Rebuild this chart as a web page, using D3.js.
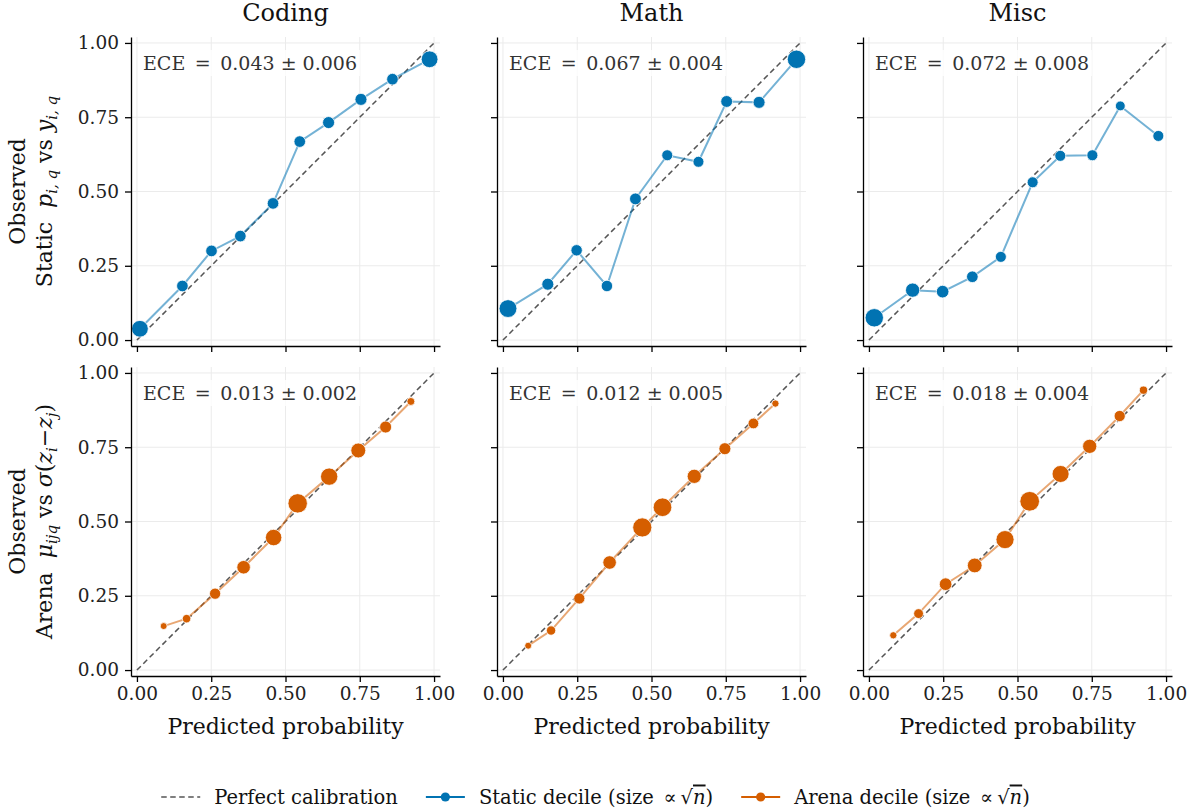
<!DOCTYPE html>
<html>
<head>
<meta charset="utf-8">
<script src="https://cdn.jsdelivr.net/npm/d3@7"></script>
<style>
  body { margin: 0; background: #fff; }
  svg text { font-family: "DejaVu Serif", serif; }
</style>
</head>
<body>
<svg id="chart" width="1199" height="812"></svg>
<script>
// Data
const categories = ['Coding', 'Math', 'Misc'];
const tickValues = [0, 0.25, 0.5, 0.75, 1];
const eceStatic = ['0.043 ± 0.006', '0.067 ± 0.004', '0.072 ± 0.008'];
const eceArena = ['0.013 ± 0.002', '0.012 ± 0.005', '0.018 ± 0.004'];

// Static deciles: predicted, observed, relative sqrt(n)
const codingStaticPred = [0.010, 0.153, 0.251, 0.348, 0.458, 0.548, 0.645, 0.754, 0.860, 0.985];
const codingStaticObs = [0.038, 0.182, 0.300, 0.350, 0.460, 0.668, 0.732, 0.810, 0.878, 0.945];
const codingStaticN = [58, 28, 28, 28, 28, 28, 30, 30, 28, 58];
const mathStaticPred = [0.017, 0.151, 0.248, 0.350, 0.446, 0.553, 0.658, 0.753, 0.862, 0.988];
const mathStaticObs = [0.106, 0.188, 0.302, 0.182, 0.475, 0.622, 0.600, 0.803, 0.800, 0.945];
const mathStaticN = [66, 30, 27, 27, 29, 25, 25, 29, 30, 70];
const miscStaticPred = [0.018, 0.147, 0.248, 0.348, 0.444, 0.551, 0.644, 0.752, 0.846, 0.974];
const miscStaticObs = [0.075, 0.168, 0.163, 0.213, 0.280, 0.531, 0.620, 0.622, 0.788, 0.687];
const miscStaticN = [70, 42, 33, 28, 25, 25, 25, 25, 20, 25];

// Arena deciles
const codingArenaPred = [0.090, 0.167, 0.263, 0.359, 0.460, 0.541, 0.647, 0.745, 0.837, 0.922];
const codingArenaObs = [0.148, 0.173, 0.257, 0.346, 0.446, 0.561, 0.651, 0.739, 0.818, 0.904];
const codingArenaN = [10, 15, 26, 38, 56, 78, 62, 46, 30, 13];
const mathArenaPred = [0.085, 0.162, 0.257, 0.359, 0.469, 0.537, 0.644, 0.747, 0.843, 0.917];
const mathArenaObs = [0.082, 0.133, 0.241, 0.362, 0.480, 0.548, 0.652, 0.745, 0.830, 0.897];
const mathArenaN = [10, 18, 26, 38, 76, 72, 42, 30, 24, 11];
const miscArenaPred = [0.082, 0.167, 0.258, 0.356, 0.458, 0.541, 0.645, 0.743, 0.844, 0.924];
const miscArenaObs = [0.117, 0.190, 0.289, 0.352, 0.439, 0.568, 0.660, 0.753, 0.855, 0.942];
const miscArenaN = [11, 20, 33, 45, 68, 80, 60, 42, 26, 14];

const zip = (xs, ys, ns) => xs.map((x, i) => ({ x: x, y: ys[i], n: ns[i] }));
const rows = [
    { name: 'static', color: '#0173b2', ece: eceStatic,
      series: [zip(codingStaticPred, codingStaticObs, codingStaticN),
               zip(mathStaticPred, mathStaticObs, mathStaticN),
               zip(miscStaticPred, miscStaticObs, miscStaticN)] },
    { name: 'arena', color: '#d55e00', ece: eceArena,
      series: [zip(codingArenaPred, codingArenaObs, codingArenaN),
               zip(mathArenaPred, mathArenaObs, mathArenaN),
               zip(miscArenaPred, miscArenaObs, miscArenaN)] }
];

// Layout
const panelX = [131, 497, 863];
const panelY = [37, 367];
const size = 309;

const svg = d3.select('#chart');

const x = d3.scaleLinear().domain([-0.02, 1.02]).range([0, size]);
const y = d3.scaleLinear().domain([-0.02, 1.02]).range([size, 0]);
const r = d3.scaleSqrt().domain([0, 100]).range([0, 11]);
const fmt = d3.format('.2f');

rows.forEach((row, ri) => {
    categories.forEach((cat, ci) => {
        const g = svg.append('g')
            .attr('transform', `translate(${panelX[ci]},${panelY[ri]})`);

        // grid
        g.selectAll('.vgrid').data(tickValues).join('line')
            .attr('x1', d => x(d)).attr('x2', d => x(d))
            .attr('y1', 0).attr('y2', size)
            .attr('stroke', '#ebebeb').attr('stroke-width', 1);
        g.selectAll('.hgrid').data(tickValues).join('line')
            .attr('y1', d => y(d)).attr('y2', d => y(d))
            .attr('x1', 0).attr('x2', size)
            .attr('stroke', '#ebebeb').attr('stroke-width', 1);

        // ECE annotation sits above the grid
        const boxLayer = g.append('g');

        // perfect calibration
        g.append('line')
            .attr('x1', x(0)).attr('y1', y(0))
            .attr('x2', x(1)).attr('y2', y(1))
            .attr('stroke', '#555').attr('stroke-width', 1.5)
            .attr('stroke-dasharray', '5.5,3.5');

        const data = row.series[ci];
        g.append('path')
            .datum(data)
            .attr('d', d3.line().x(d => x(d.x)).y(d => y(d.y)))
            .attr('fill', 'none')
            .attr('stroke', row.color)
            .attr('stroke-opacity', 0.55)
            .attr('stroke-width', 2);

        g.selectAll('circle').data(data).join('circle')
            .attr('cx', d => x(d.x))
            .attr('cy', d => y(d.y))
            .attr('r', d => r(d.n))
            .attr('fill', row.color)
            .attr('stroke', '#fff')
            .attr('stroke-width', 0.8);

        // axes
        const xAxis = g.append('g')
            .attr('transform', `translate(0,${size})`)
            .call(d3.axisBottom(x).tickValues(tickValues)
                .tickFormat(ri === 1 ? fmt : '')
                .tickSize(6).tickSizeOuter(0).tickPadding(5));
        const yAxis = g.append('g')
            .call(d3.axisLeft(y).tickValues(tickValues)
                .tickFormat(ci === 0 ? fmt : '')
                .tickSize(6).tickSizeOuter(0).tickPadding(6));
        [xAxis, yAxis].forEach(a => {
            a.select('.domain').attr('stroke', '#000').attr('stroke-width', 1.3);
            a.selectAll('.tick line').attr('stroke', '#000').attr('stroke-width', 1.3);
            a.selectAll('.tick text')
                .style('font-family', '"DejaVu Serif", serif')
                .style('font-size', '18.5px')
                .attr('fill', '#222');
        });

        // ECE annotation with white box
        const ece = boxLayer.append('text')
            .attr('x', 12).attr('y', 33)
            .style('font-size', '19px')
            .style('white-space', 'pre')
            .attr('fill', '#333')
            .text('ECE\u2002=\u2002' + row.ece[ci]);
        const bb = ece.node().getBBox();
        boxLayer.insert('rect', () => ece.node())
            .attr('x', bb.x - 3).attr('y', bb.y - 2)
            .attr('width', bb.width + 6).attr('height', bb.height + 4)
            .attr('fill', '#fff').attr('fill-opacity', 0.8);

        if (ri === 0) {
            svg.append('text')
                .attr('x', panelX[ci] + size / 2).attr('y', 21)
                .attr('text-anchor', 'middle')
                .style('font-size', '24px')
                .attr('fill', '#111')
                .text(cat);
        } else {
            svg.append('text')
                .attr('x', panelX[ci] + size / 2).attr('y', 734)
                .attr('text-anchor', 'middle')
                .style('font-size', '22px')
                .attr('fill', '#111')
                .text('Predicted probability');
        }
    });
});

// Two-line y labels
const ylabelParts = [
    [['Static  ', 0], ['p', 1], ['i, q', 2], [' vs ', 0], ['y', 1], ['i, q', 2]],
    [['Arena  ', 0], ['μ', 1], ['ijq', 2], [' vs ', 0], ['σ', 1], ['(', 0], ['z', 1], ['i', 2], ['−', 0], ['z', 1], ['j', 2], [')', 0]]
];
panelY.forEach((py, ri) => {
    const cy = py + size / 2;
    svg.append('text')
        .attr('transform', `translate(25,${cy}) rotate(-90)`)
        .attr('text-anchor', 'middle')
        .style('font-size', '22px')
        .attr('fill', '#111')
        .text('Observed');
    const t = svg.append('text')
        .attr('transform', `translate(52,${cy}) rotate(-90)`)
        .attr('text-anchor', 'middle')
        .style('font-size', '22px')
        .style('white-space', 'pre')
        .attr('fill', '#111');
    let shifted = false;
    ylabelParts[ri].forEach(([txt, kind]) => {
        const sp = t.append('tspan').text(txt);
        if (kind >= 1) sp.style('font-style', 'italic');
        if (kind === 2) {
            sp.style('font-size', '15px').attr('dy', shifted ? 0 : 5);
            shifted = true;
        } else if (shifted) {
            sp.attr('dy', -5);
            shifted = false;
        }
    });
});

// Legend
const legendY = 797;
const legend = svg.append('g');
const items = [
    { kind: 'dash', label: 'Perfect calibration' },
    { kind: 'dot', color: '#0173b2', label: 'Static decile (size' },
    { kind: 'dot', color: '#d55e00', label: 'Arena decile (size' }
];
const colGap = 28;
let lx = 0;
items.forEach(it => {
    const ig = legend.append('g').attr('transform', `translate(${lx},0)`);
    if (it.kind === 'dash') {
        ig.append('line').attr('x1', 0).attr('x2', 39).attr('y1', legendY).attr('y2', legendY)
            .attr('stroke', '#555').attr('stroke-width', 1.5).attr('stroke-dasharray', '5.5,3.5');
    } else {
        ig.append('line').attr('x1', 0).attr('x2', 39).attr('y1', legendY).attr('y2', legendY)
            .attr('stroke', it.color).attr('stroke-width', 2);
        ig.append('circle').attr('cx', 19.5).attr('cy', legendY).attr('r', 4.6)
            .attr('fill', it.color);
    }
    const t = ig.append('text')
        .attr('x', 53).attr('y', legendY + 6.5)
        .style('font-size', '19.5px')
        .style('white-space', 'pre')
        .attr('fill', '#111');
    t.append('tspan').text(it.label);
    if (it.kind === 'dot') {
        t.append('tspan').text('\u2002∝\u2009√');
        t.append('tspan').text('n').style('font-style', 'italic')
            .style('text-decoration', 'overline');
        t.append('tspan').text(')');
    }
    lx += 53 + t.node().getComputedTextLength() + colGap;
});
const lw = lx - colGap;
legend.attr('transform', `translate(${(1199 - lw) / 2 - 4},0)`);
</script>
</body>
</html>
